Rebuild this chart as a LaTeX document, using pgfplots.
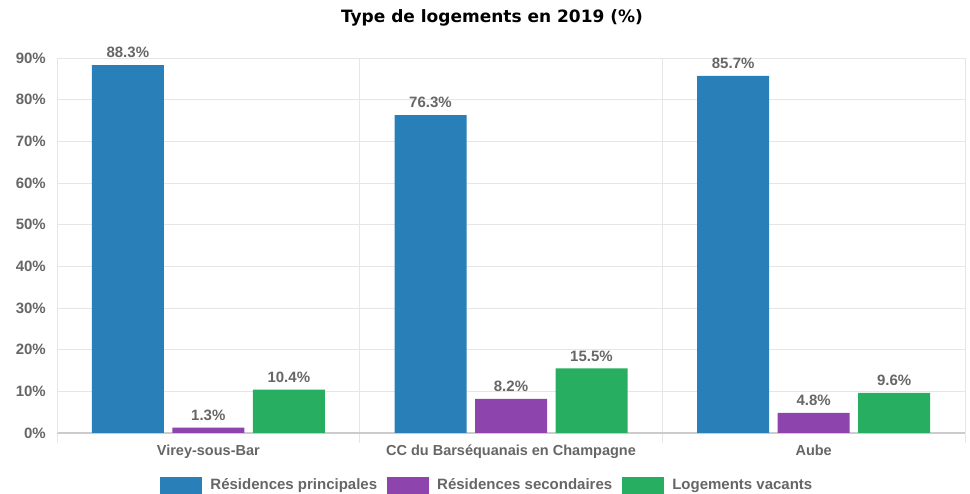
\documentclass[border=0pt]{standalone}
\usepackage{fontspec}
\setmainfont{Liberation Sans}
\newfontfamily\titlefont{DejaVu Sans}
\usepackage{pgfplots}
\pgfplotsset{compat=1.18}
\definecolor{cblue}{HTML}{2980B9}
\definecolor{cpurple}{HTML}{8E44AD}
\definecolor{cgreen}{HTML}{27AE60}
\definecolor{txtgray}{HTML}{666666}
\definecolor{gridgray}{HTML}{E6E6E6}
\definecolor{axisgray}{HTML}{CCCCCC}
\begin{document}
\begin{tikzpicture}[x=1pt,y=1pt]
\path[use as bounding box] (0,0) rectangle (970,494);
\node[font=\titlefont\bfseries\fontsize{17}{19}\selectfont, text=black] at (492,476) {Type de logements en 2019 (\%)};
\begin{axis}[
  at={(57pt,61pt)}, anchor=south west,
  scale only axis, width=908pt, height=375pt,
  ymin=0, ymax=90, xmin=-0.5, xmax=2.5,
  ybar=8.5pt, bar width=72pt,
  xtick={0,1,2},
  xticklabels={Virey-sous-Bar, CC du Barséquanais en Champagne, Aube},
  minor xtick={-0.5,0.5,1.5,2.5},
  ytick={0,10,...,90},
  yticklabel={\pgfmathprintnumber{\tick}\%},
  /pgf/number format/assume math mode=true,
  separate axis lines,
  axis x line*=bottom, axis y line*=left,
  x axis line style={draw=axisgray, line width=1.5pt},
  y axis line style={draw=gridgray, line width=0.8pt},
  ymajorgrids, minor x grid style={draw=gridgray, line width=0.8pt}, xminorgrids,
  major grid style={draw=gridgray, line width=0.8pt},
  tick align=outside, major tick length=0pt, minor tick length=10pt,
  minor tick style={draw=gridgray, line width=0.8pt},
  tick label style={font=\bfseries\fontsize{15}{17}\selectfont, text=txtgray, inner sep=0pt},
  yticklabel style={xshift=-11pt},
  xticklabel style={yshift=-12pt, font=\bfseries\fontsize{14.5}{17}\selectfont},
  nodes near coords={\pgfmathprintnumber[fixed,precision=1,fixed zerofill]{\pgfplotspointmeta}\%},
  nodes near coords style={font=\bfseries\fontsize{15}{17}\selectfont, text=txtgray, inner sep=0pt, anchor=south, yshift=7pt},
  legend columns=3,
  legend style={at={(0.474,-0.139)}, anchor=center, draw=none, fill=none,
    font=\bfseries\fontsize{15}{17}\selectfont, text=txtgray,
    /tikz/every odd column/.append style={column sep=6pt},
    /tikz/every even column/.append style={column sep=8pt}},
  legend image code/.code={\fill[#1] (0pt,-8.5pt) rectangle (42pt,8.5pt);},
]
\addplot[fill=cblue, draw=none] coordinates {(0,88.3) (1,76.3) (2,85.7)};
\addplot[fill=cpurple, draw=none] coordinates {(0,1.3) (1,8.2) (2,4.8)};
\addplot[fill=cgreen, draw=none] coordinates {(0,10.4) (1,15.5) (2,9.6)};
\legend{Résidences principales, Résidences secondaires, Logements vacants}
\end{axis}
\end{tikzpicture}
\end{document}
